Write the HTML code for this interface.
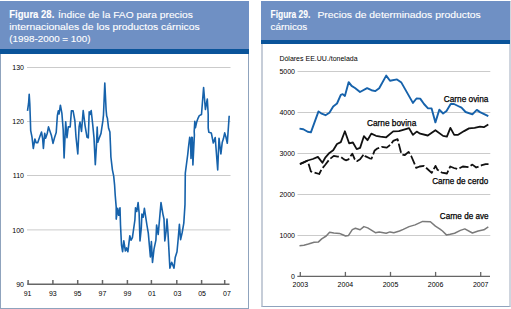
<!DOCTYPE html>
<html><head><meta charset="utf-8">
<style>
html,body{margin:0;padding:0;background:#fff;width:511px;height:309px;overflow:hidden;position:relative;font-family:"Liberation Sans",sans-serif;}
.panel{position:absolute;box-sizing:border-box;border:1px solid #8fa3bd;background:#fff;}
.hdr{position:absolute;background:#6f90c4;}
.bar{position:absolute;background:#0a549a;}
.t{position:absolute;white-space:nowrap;}
.h{font-size:10px;line-height:12.3px;color:#fff;}
svg{position:absolute;left:0;top:0;}
svg text{font-family:"Liberation Sans",sans-serif;fill:#000;}
svg text.w{fill:#fff;stroke:#fff;stroke-width:0.12px;}
</style></head><body>
<div class="panel" style="left:0;top:1px;width:249px;height:308px;"></div>
<div class="hdr" style="left:0;top:1px;width:249px;height:52.6px;"></div>
<div class="bar" style="left:0;top:49.1px;width:249px;height:4.5px;"></div>
<div class="panel" style="left:261px;top:1px;width:250px;height:306px;border-left:2px solid #c6cdd8;border-right:2px solid #cfd5de;"></div>
<div class="hdr" style="left:261px;top:1px;width:248.5px;height:42.7px;"></div>
<div class="bar" style="left:261px;top:39.6px;width:248.5px;height:4.1px;"></div>
<svg width="511" height="309" viewBox="0 0 511 309">
<g style="fill:#fff" font-size="9.8">
<text class="w" x="9.3" y="17.5" font-weight="bold" font-size="10.2" textLength="45" lengthAdjust="spacingAndGlyphs">Figura 28.</text>
<text class="w" x="58" y="17.5" textLength="134.8" lengthAdjust="spacingAndGlyphs">Índice de la FAO para precios</text>
<text class="w" x="9.3" y="30.2" textLength="190.4" lengthAdjust="spacingAndGlyphs">internacionales de los productos cárnicos</text>
<text class="w" x="9.3" y="42.1" textLength="81.2" lengthAdjust="spacingAndGlyphs">(1998-2000 = 100)</text>
<text class="w" x="270.5" y="18.1" font-weight="bold" font-size="10.3" textLength="39.8" lengthAdjust="spacingAndGlyphs">Figura 29.</text>
<text class="w" x="317.4" y="18.1" textLength="163.4" lengthAdjust="spacingAndGlyphs">Precios de determinados productos</text>
<text class="w" x="270.5" y="30.4" textLength="36.8" lengthAdjust="spacingAndGlyphs">cárnicos</text>
</g>
<g stroke="#cbcbcb" stroke-width="1">
<line x1="27" y1="67.5" x2="230.5" y2="67.5"/>
<line x1="27" y1="121.5" x2="230.5" y2="121.5"/>
<line x1="27" y1="175.5" x2="230.5" y2="175.5"/>
<line x1="27" y1="229.9" x2="230.5" y2="229.9"/>
</g>
<g stroke="#666" stroke-width="1.5" fill="none"><line x1="27.2" y1="284.3" x2="229.5" y2="284.3"/>
<line x1="28.1" y1="280" x2="28.1" y2="284.3"/>
<line x1="52.9" y1="280" x2="52.9" y2="284.3"/>
<line x1="77.7" y1="280" x2="77.7" y2="284.3"/>
<line x1="102.5" y1="280" x2="102.5" y2="284.3"/>
<line x1="127.4" y1="280" x2="127.4" y2="284.3"/>
<line x1="151.4" y1="280" x2="151.4" y2="284.3"/>
<line x1="176.8" y1="280" x2="176.8" y2="284.3"/>
<line x1="201.6" y1="280" x2="201.6" y2="284.3"/>
<line x1="224.7" y1="280" x2="224.7" y2="284.3"/>
</g>
<g font-size="7" text-anchor="end">
<text x="24" y="286.6">90</text>
<text x="24" y="232.5">100</text>
<text x="24" y="178.3">110</text>
<text x="24" y="124.2">120</text>
<text x="24" y="70.0">130</text>
</g><g font-size="7" text-anchor="middle">
<text x="27.6" y="296">91</text>
<text x="52.8" y="296">93</text>
<text x="77.6" y="296">95</text>
<text x="102.4" y="296">97</text>
<text x="127.4" y="296">99</text>
<text x="152.0" y="296">01</text>
<text x="177.4" y="296">03</text>
<text x="202.1" y="296">05</text>
<text x="227.0" y="296">07</text>
</g>
<g stroke="#cbcbcb" stroke-width="1">
<line x1="297.5" y1="71.5" x2="490.3" y2="71.5"/>
<line x1="297.5" y1="112.5" x2="490.3" y2="112.5"/>
<line x1="297.5" y1="153.5" x2="490.3" y2="153.5"/>
<line x1="297.5" y1="194.5" x2="490.3" y2="194.5"/>
<line x1="297.5" y1="235.5" x2="490.3" y2="235.5"/>
</g>
<g stroke="#666" stroke-width="1.3" fill="none"><line x1="297.3" y1="276.3" x2="490" y2="276.3"/>
<line x1="300.3" y1="271.9" x2="300.3" y2="276.3"/>
<line x1="345.4" y1="271.9" x2="345.4" y2="276.3"/>
<line x1="390.5" y1="271.9" x2="390.5" y2="276.3"/>
<line x1="435.6" y1="271.9" x2="435.6" y2="276.3"/>
<line x1="480.7" y1="271.9" x2="480.7" y2="276.3"/>
</g>
<g font-size="7" text-anchor="end">
<text x="295" y="278.6">0</text>
<text x="295" y="237.6">1000</text>
<text x="295" y="196.6">2000</text>
<text x="295" y="155.6">3000</text>
<text x="295" y="114.6">4000</text>
<text x="295" y="73.6">5000</text>
</g><g font-size="7" text-anchor="middle">
<text x="300.3" y="287.2">2003</text>
<text x="345.4" y="287.2">2004</text>
<text x="390.5" y="287.2">2005</text>
<text x="435.6" y="287.2">2006</text>
<text x="480.7" y="287.2">2007</text>
</g>
<text x="279.4" y="61" font-size="7">Dólares EE.UU./tonelada</text>
<path d="M27.5,110.9 L28.6,103.2 L29.2,94.4 L29.8,103.9 L30.2,115.0 L30.7,130.7 L32.0,137.1 L33.3,148.5 L34.9,139.0 L36.2,142.8 L37.7,142.8 L39.0,139.0 L40.3,135.2 L41.5,132.0 L42.6,138.3 L43.4,148.5 L44.7,133.2 L45.6,138.3 L47.3,133.2 L48.5,126.9 L49.8,130.7 L51.5,135.8 L53.0,143.4 L54.5,137.7 L56.2,132.6 L57.4,115.3 L58.3,110.9 L59.1,114.0 L60.4,105.2 L61.9,113.4 L63.2,130.0 L64.1,158.0 L65.7,121.8 L67.0,137.7 L68.3,126.9 L70.2,126.9 L71.4,110.9 L73.1,110.9 L74.9,121.0 L76.0,137.0 L77.8,154.0 L79.1,126.9 L80.0,122.0 L81.5,131.5 L83.2,110.5 L85.1,125.8 L87.0,137.2 L88.3,137.9 L89.2,111.8 L90.2,114.4 L91.2,110.5 L92.7,124.5 L94.0,137.9 L95.3,164.7 L96.5,144.4 L97.2,127.1 L97.8,142.3 L99.1,138.5 L101.0,133.4 L102.9,120.7 L103.5,114.8 L104.8,83.1 L106.1,109.8 L106.7,116.1 L107.4,118.2 L108.6,128.3 L109.9,132.1 L110.5,146.0 L110.9,157.0 L112.4,169.8 L113.7,176.1 L114.6,185.2 L115.2,195.0 L116.2,207.1 L116.2,219.1 L117.1,212.8 L117.7,208.3 L118.7,215.3 L120.0,207.7 L120.5,225.0 L121.5,245.0 L122.6,251.7 L123.8,240.9 L125.4,251.0 L126.6,247.9 L127.9,251.7 L129.8,235.8 L131.1,240.2 L132.4,237.7 L134.9,220.0 L135.5,207.7 L136.8,211.5 L138.1,202.6 L139.1,212.8 L140.0,240.9 L141.3,228.0 L141.9,214.1 L143.2,217.2 L144.4,208.3 L147.0,225.5 L148.3,233.1 L150.4,257.0 L151.4,241.5 L152.5,262.5 L154.0,249.1 L155.9,240.2 L156.6,225.0 L158.2,234.5 L161.0,202.6 L162.9,214.1 L164.0,219.0 L164.8,240.9 L166.1,231.4 L167.0,219.1 L168.0,233.1 L169.9,268.1 L171.7,262.3 L174.0,268.1 L175.2,257.6 L177.0,251.7 L178.1,240.0 L179.4,224.3 L180.6,239.6 L182.2,232.5 L183.8,223.1 L185.0,204.4 L185.3,173.1 L187.8,154.0 L188.4,148.1 L189.7,137.3 L190.6,143.0 L191.0,158.5 L191.6,137.3 L192.3,137.5 L192.9,164.9 L194.4,135.0 L194.2,131.6 L194.8,121.4 L195.4,127.8 L196.7,122.1 L198.0,118.3 L199.3,115.6 L201.5,114.5 L203.6,87.5 L205.4,109.5 L207.3,99.0 L208.2,114.3 L208.2,127.8 L208.8,132.2 L211.3,132.9 L213.3,143.0 L215.2,137.5 L217.7,170.0 L219.0,138.2 L220.9,154.0 L222.2,142.6 L223.4,138.8 L224.7,132.9 L226.0,137.3 L227.3,143.3 L229.2,115.7" fill="none" stroke="#1662ab" stroke-width="1.6" stroke-linejoin="round"/>
<path d="M299.5,128.6 L303.3,129.2 L307.7,131.8 L310.9,132.4 L318.5,111.4 L321.1,113.3 L325.5,115.2 L329.4,112.7 L333.2,106.4 L337.0,103.5 L340.8,94.8 L342.7,94.1 L344.9,96.0 L348.7,82.1 L351.6,85.9 L355.0,88.0 L360.0,92.0 L367.1,88.1 L371.5,90.2 L375.4,91.1 L379.2,88.3 L386.2,75.6 L390.0,80.7 L397.0,79.4 L401.4,82.6 L412.9,102.9 L416.5,98.5 L420.2,98.6 L424.0,104.0 L427.8,108.2 L431.6,108.4 L435.4,122.4 L439.3,109.7 L443.1,113.5 L446.5,111.0 L450.7,104.0 L454.0,104.0 L458.0,106.0 L461.5,107.7 L465.6,112.0 L472.4,114.4 L476.8,109.9 L480.0,112.1 L488.3,116.2" fill="none" stroke="#1662ab" stroke-width="1.9" stroke-linejoin="round"/>
<path d="M299.8,164.3 L303.9,162.4 L307.7,160.5 L312.8,159.0 L317.9,156.9 L322.4,162.8 L325.5,157.3 L329.4,152.9 L333.2,150.3 L337.0,144.0 L340.8,142.1 L344.9,131.3 L349.1,143.3 L352.9,142.5 L356.7,149.1 L360.1,147.9 L363.9,136.2 L367.5,140.2 L371.3,133.6 L376.0,135.8 L380.4,136.7 L386.2,137.3 L393.2,131.4 L398.9,131.1 L409.1,128.2 L412.9,134.9 L416.7,131.6 L420.2,133.7 L427.8,135.5 L435.4,130.2 L443.1,135.9 L446.9,136.6 L450.4,127.9 L454.2,134.9 L457.7,134.9 L464.1,131.1 L469.0,128.4 L474.6,127.9 L480.0,126.6 L483.8,127.2 L488.3,124.5" fill="none" stroke="#111" stroke-width="1.8" stroke-linejoin="round"/>
<path d="M300.1,163.9 L307.1,160.7 L308.4,163.2 L310.9,171.5 L314.1,172.4 L319.2,174.0 L321.7,169.0 L325.5,164.5 L329.4,159.4 L333.8,155.9 L337.6,156.6 L340.8,156.9 L344.0,159.4 L345.9,160.3 L348.4,159.4 L352.3,153.7 L354.8,159.4 L356.9,161.2 L360.1,159.3 L363.9,154.2 L365.2,156.1 L369.6,158.3 L371.5,158.7 L374.7,150.4 L377.3,148.5 L381.7,146.9 L386.8,147.6 L390.6,144.7 L393.2,140.9 L397.6,139.2 L401.4,154.2 L404.6,155.2 L408.6,151.9 L411.2,156.0 L416.2,167.8 L419.6,166.5 L424.1,165.9 L431.7,172.9 L435.5,165.9 L437.4,169.7 L441.9,172.6 L447.0,173.5 L450.2,166.5 L453.9,168.0 L457.7,169.1 L462.8,166.5 L468.5,167.2 L472.4,164.6 L476.2,167.5 L481.9,165.2 L485.7,164.2 L488.5,164.2" fill="none" stroke="#111" stroke-width="1.8" stroke-dasharray="9.5,2.5" stroke-dashoffset="1" stroke-linejoin="round"/>
<path d="M299.5,245.7 L303.9,245.2 L308.4,244.0 L314.1,242.3 L318.5,241.9 L321.7,238.9 L326.2,236.0 L329.6,232.2 L333.8,233.0 L339.5,233.4 L342.7,234.7 L345.6,236.0 L348.4,235.6 L352.3,229.6 L355.4,228.3 L360.1,229.8 L363.9,226.6 L367.7,227.9 L375.4,232.7 L379.2,231.9 L386.2,233.2 L390.0,231.9 L393.8,232.7 L399.5,231.0 L403.3,229.4 L409.1,226.6 L415.1,224.9 L422.7,221.4 L430.4,221.7 L435.4,226.1 L440.0,229.1 L442.5,231.0 L446.4,234.9 L450.2,234.2 L454.6,233.2 L460.4,230.4 L464.8,228.9 L472.4,233.0 L478.2,231.0 L483.9,229.8 L488.3,226.9" fill="none" stroke="#7a7a7a" stroke-width="1.5" stroke-linejoin="round"/>
<g font-size="8.5" style="stroke:#000;stroke-width:0.25px">
<text x="443.8" y="101.5" textLength="44.6" lengthAdjust="spacingAndGlyphs">Carne ovina</text>
<text x="366.9" y="125.9" textLength="49.4" lengthAdjust="spacingAndGlyphs">Carne bovina</text>
<text x="432.2" y="183.6" textLength="56" lengthAdjust="spacingAndGlyphs">Carne de cerdo</text>
<text x="439.8" y="218.9" textLength="48.7" lengthAdjust="spacingAndGlyphs">Carne de ave</text>
</g>
</svg>
</body></html>
